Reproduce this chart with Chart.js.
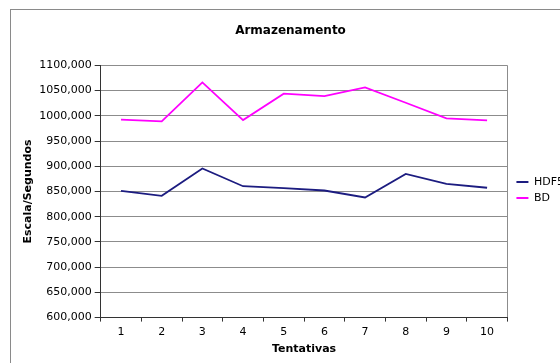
<!DOCTYPE html>
<html>
<head>
<meta charset="utf-8">
<script src="https://cdn.jsdelivr.net/npm/chart.js@4/dist/chart.umd.min.js"></script>
<style>
  body { margin: 0; background: #fff; overflow: hidden; }
  #frame { position: absolute; left: 10px; top: 9px; width: 700px; height: 500px;
           border-left: 1px solid #8a8a8a; border-top: 1px solid #8a8a8a; }
  #wrap { position: absolute; left: 0; top: 0; width: 570px; height: 363px; }
</style>
</head>
<body>
<div id="frame"></div>
<div id="wrap"><canvas id="armChart"></canvas></div>
<script>
var tentativas = ['1', '2', '3', '4', '5', '6', '7', '8', '9', '10'];
var hdf5 = [851.4, 841.5, 895.7, 860.5, 856.6, 852.0, 838.1, 884.9, 865.1, 857.4];
var bd = [992.3, 988.9, 1066.3, 991.5, 1043.9, 1039.1, 1056.4, 1026.0, 994.9, 990.9];
var yMin = 600, yMax = 1100, yStep = 50;

Chart.defaults.font.family = 'DejaVu Sans';
Chart.defaults.font.size = 11;
Chart.defaults.color = '#000';

// move the legend a bit right and down, like the original
var legendNudge = {
  id: 'legendNudge',
  afterLayout: function(c) {
    c.legend.left += 4;
    c.legend.right += 4;
    c.legend.top += 12;
    c.legend.bottom += 12;
  }
};

var chart = new Chart(document.getElementById('armChart'), {
  type: 'line',
  data: {
    labels: tentativas,
    datasets: [{
      label: 'HDF5',
      data: hdf5,
      borderColor: '#1c1c80',
      borderWidth: 1.8,
      pointRadius: 0,
      tension: 0
    }, {
      label: 'BD',
      data: bd,
      borderColor: '#ff00ff',
      borderWidth: 1.8,
      pointRadius: 0,
      tension: 0
    }]
  },
  options: {
    responsive: true,
    maintainAspectRatio: false,
    animation: false,
    layout: { padding: { left: 11, right: 0, top: 0, bottom: 7 } },
    plugins: {
      title: {
        display: true,
        text: 'Armazenamento',
        font: { size: 12, weight: 'bold' },
        padding: { top: 24, bottom: 27 }
      },
      legend: {
        position: 'right',
        labels: {
          usePointStyle: true,
          pointStyle: 'line',
          pointStyleWidth: 12,
          padding: 5,
          boxHeight: 11
        }
      },
      tooltip: { enabled: false }
    },
    scales: {
      x: {
        offset: true,
        grid: {
          offset: true,
          color: function(c) { return c.type === 'tick' ? 'transparent' : '#8c8c8c'; },
          tickColor: '#333',
          tickLength: 4
        },
        border: { color: '#333' },
        ticks: { padding: 4, maxRotation: 0 },
        title: {
          display: true,
          text: 'Tentativas',
          font: { weight: 'bold' },
          padding: { top: 0, bottom: 0 }
        }
      },
      y: {
        min: yMin,
        max: yMax,
        grid: { color: '#8c8c8c', tickColor: '#333', tickLength: 6 },
        border: { color: '#333' },
        ticks: {
          stepSize: yStep,
          padding: 3,
          callback: function(v) { return v.toFixed(3).replace('.', ','); }
        },
        title: {
          display: true,
          text: 'Escala/Segundos',
          font: { weight: 'bold' },
          padding: { top: 11, bottom: 1 }
        }
      }
    }
  },
  plugins: [legendNudge]
});
</script>
</body>
</html>
